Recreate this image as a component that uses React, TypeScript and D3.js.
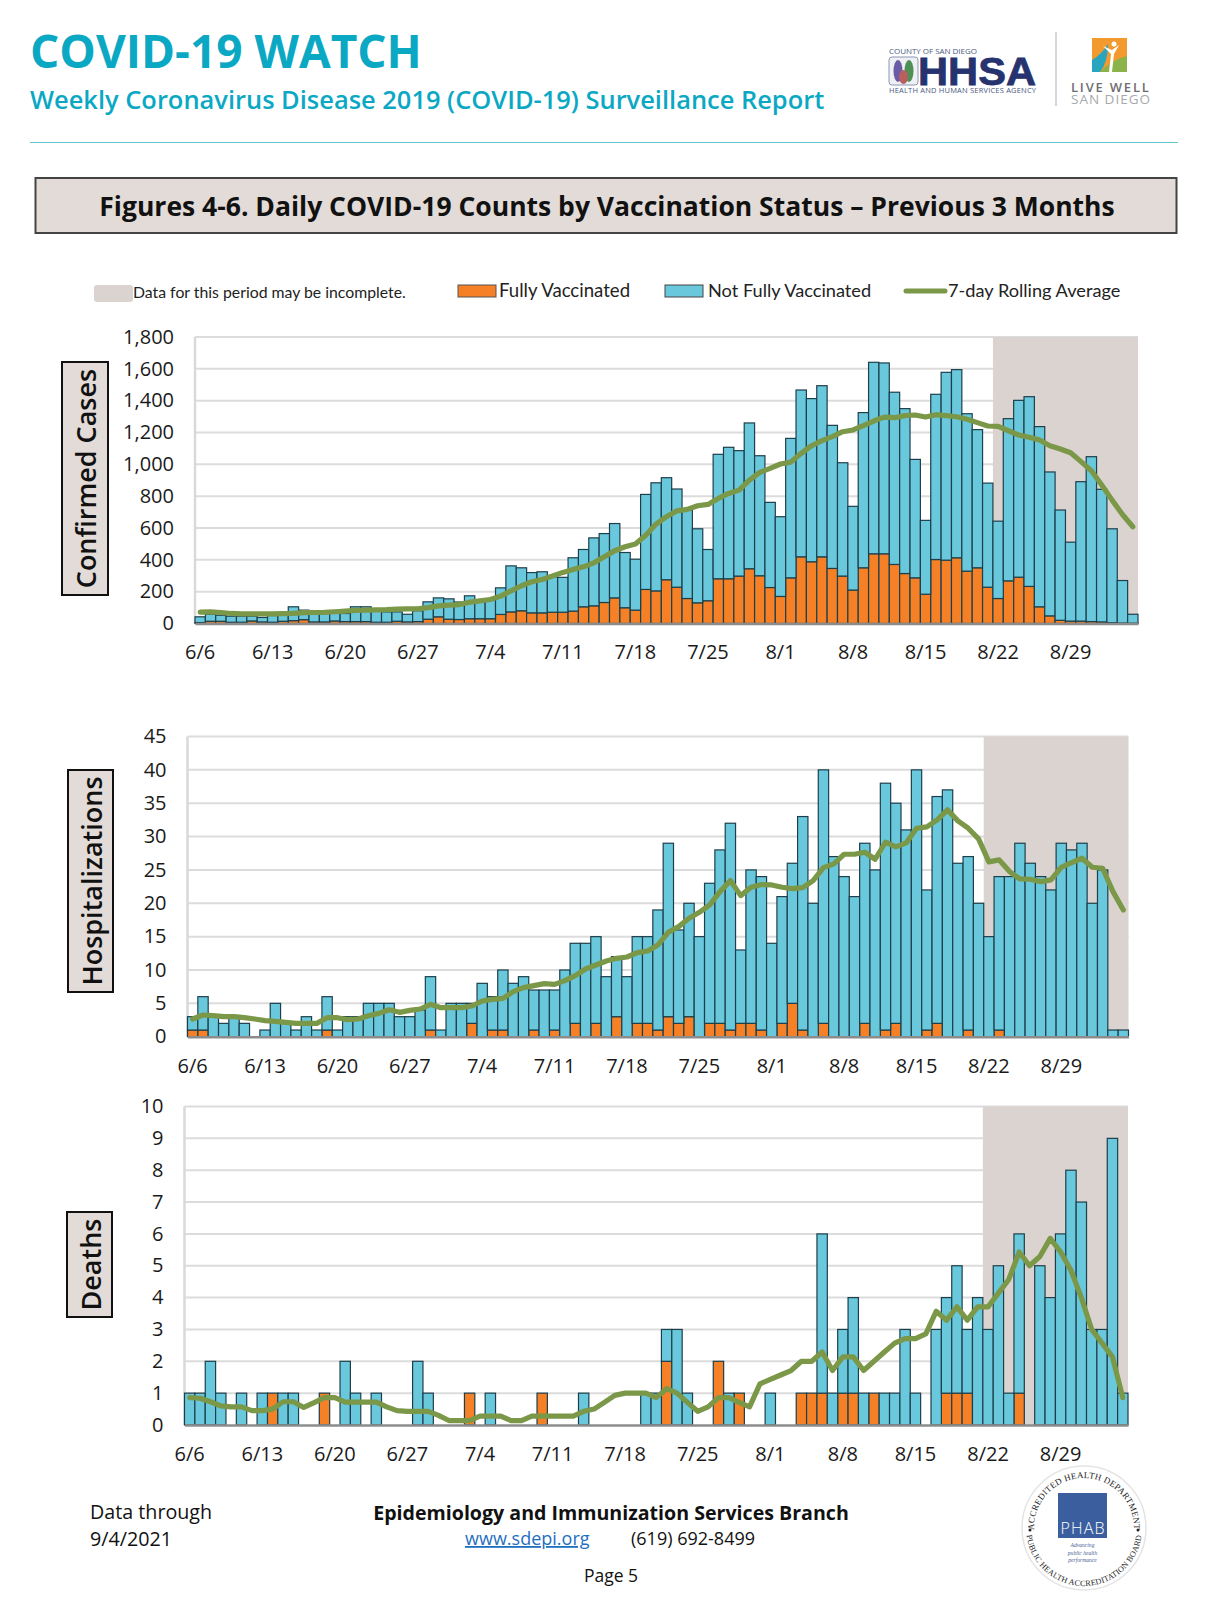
import React, { useEffect, useRef } from 'react'
import * as d3 from 'd3'

// 6/6/2021 through 9/4/2021
const days = d3.timeDay.range(new Date(2021, 5, 6), new Date(2021, 8, 5)).map(d3.timeFormat('%-m/%-d'))
const weekLabels = ['6/6', '6/13', '6/20', '6/27', '7/4', '7/11', '7/18', '7/25', '8/1', '8/8', '8/15', '8/22', '8/29']
const incompleteFrom = '8/22'

const casesTotal = [
    42, 58, 52, 46, 46, 46, 38, 50, 55, 105,
    84, 72, 65, 65, 63, 105, 105, 86, 73, 73,
    58, 80, 136, 161, 155, 135, 174, 147, 147, 224,
    362, 350, 320, 325, 293, 290, 413, 465, 538, 565,
    628, 446, 404, 811, 884, 916, 845, 712, 595, 465,
    1063, 1107, 1086, 1260, 1054, 761, 671, 1163, 1467, 1413,
    1494, 1245, 1010, 736, 1325, 1641, 1637, 1453, 1350, 1031,
    648, 1440, 1578, 1595, 1318, 1218, 882, 643, 1287, 1402,
    1425, 1237, 952, 713, 511, 891, 1048, 843, 595, 270,
    58,
]
const casesFully = [
    6, 14, 14, 8, 8, 16, 10, 8, 14, 18,
    24, 10, 10, 16, 12, 12, 12, 8, 8, 14,
    10, 12, 27, 42, 27, 25, 30, 30, 30, 57,
    73, 80, 67, 67, 71, 71, 78, 105, 111, 132,
    161, 99, 84, 214, 205, 275, 228, 157, 130, 143,
    281, 281, 298, 344, 300, 226, 170, 287, 419, 388,
    419, 346, 298, 210, 350, 438, 438, 371, 314, 287,
    184, 402, 398, 413, 329, 350, 228, 157, 268, 291,
    233, 105, 48, 20, 15, 15, 12, 10, 5, 3,
    2,
]
const casesAverage = [
    71, 73, 69, 63, 61, 61, 61, 61, 62, 64,
    68, 69, 70, 74, 78, 82, 84, 86, 87, 90,
    92, 92, 100, 111, 115, 119, 134, 142, 151, 172,
    205, 237, 262, 277, 298, 321, 340, 356, 381, 419,
    457, 482, 499, 555, 625, 671, 708, 717, 740, 748,
    786, 817, 838, 901, 949, 975, 1002, 1014, 1069, 1117,
    1149, 1174, 1205, 1216, 1243, 1272, 1297, 1293, 1306, 1310,
    1297, 1312, 1306, 1299, 1283, 1262, 1241, 1239, 1211, 1184,
    1170, 1153, 1117, 1096, 1073, 1017, 960, 870, 775, 685,
    608,
]

const hospTotal = [
    3, 6, 3, 2, 3, 2, 0, 1, 5, 2,
    1, 3, 1, 6, 1, 3, 3, 5, 5, 5,
    3, 3, 4, 9, 1, 5, 5, 5, 8, 6,
    10, 8, 9, 7, 7, 7, 10, 14, 14, 15,
    9, 12, 9, 15, 15, 19, 29, 16, 20, 15,
    23, 28, 32, 13, 25, 24, 14, 21, 26, 33,
    20, 40, 27, 24, 21, 29, 25, 38, 35, 31,
    40, 22, 36, 37, 26, 27, 20, 15, 24, 24,
    29, 26, 24, 22, 29, 28, 29, 20, 25, 1,
    1,
]
const hospFully = [
    1, 1, 0, 0, 0, 0, 0, 0, 0, 0,
    0, 0, 0, 1, 0, 0, 0, 0, 0, 0,
    0, 0, 0, 1, 0, 0, 0, 2, 0, 1,
    1, 0, 0, 1, 0, 1, 0, 2, 0, 2,
    0, 3, 0, 2, 2, 1, 3, 2, 3, 0,
    2, 2, 1, 2, 2, 1, 0, 2, 5, 1,
    0, 2, 0, 0, 0, 2, 0, 1, 2, 0,
    0, 1, 2, 0, 0, 1, 0, 0, 1, 0,
    0, 0, 0, 0, 0, 0, 0, 0, 0, 0,
    0,
]
const hospAverage = [
    2.65, 3.25, 3.15, 3, 3, 2.85, 2.65, 2.4, 2.3, 2.15,
    2, 2, 2, 2.85, 2.85, 2.55, 2.65, 3.15, 3.5, 4.05,
    3.65, 3.95, 4.15, 4.85, 4.35, 4.35, 4.35, 4.6, 5.35, 5.6,
    5.75, 6.75, 7.35, 7.65, 7.95, 7.85, 8.4, 9.15, 10.15, 10.75,
    11.35, 11.75, 11.95, 12.6, 12.85, 13.75, 15.65, 16.5, 17.75, 18.65,
    19.75, 21.75, 23.4, 21.15, 22.4, 22.8, 22.75, 22.4, 22.2, 22.35,
    23.4, 25.35, 25.9, 27.35, 27.35, 27.65, 26.6, 29.15, 28.45, 29.05,
    31.25, 31.45, 32.5, 34, 32.35, 31.25, 29.65, 26.2, 26.5, 24.75,
    23.65, 23.6, 23.25, 23.5, 25.4, 26.1, 26.75, 25.4, 25.25, 21.75,
    19,
]

const deathsTotal = [
    1, 1, 2, 1, 0, 1, 0, 1, 1, 1,
    1, 0, 0, 1, 0, 2, 1, 0, 1, 0,
    0, 0, 2, 1, 0, 0, 0, 1, 0, 1,
    0, 0, 0, 0, 1, 0, 0, 0, 1, 0,
    0, 0, 0, 0, 1, 1, 3, 3, 1, 0,
    0, 2, 1, 1, 0, 0, 1, 0, 0, 1,
    1, 6, 1, 3, 4, 1, 1, 1, 1, 3,
    1, 0, 3, 4, 5, 3, 4, 3, 5, 1,
    6, 0, 5, 4, 6, 8, 7, 3, 3, 9,
    1,
]
const deathsFully = [
    0, 0, 0, 0, 0, 0, 0, 0, 1, 0,
    0, 0, 0, 1, 0, 0, 0, 0, 0, 0,
    0, 0, 0, 0, 0, 0, 0, 1, 0, 0,
    0, 0, 0, 0, 1, 0, 0, 0, 0, 0,
    0, 0, 0, 0, 0, 0, 2, 0, 0, 0,
    0, 2, 0, 1, 0, 0, 0, 0, 0, 1,
    1, 1, 0, 1, 1, 0, 1, 0, 0, 0,
    0, 0, 0, 1, 1, 1, 0, 0, 0, 0,
    1, 0, 0, 0, 0, 0, 0, 0, 0, 0,
    0,
]
const deathsAverage = [
    0.86, 0.84, 0.73, 0.6, 0.57, 0.57, 0.45, 0.45, 0.5, 0.73,
    0.73, 0.55, 0.7, 0.86, 0.86, 0.72, 0.72, 0.72, 0.72, 0.57,
    0.45, 0.43, 0.43, 0.43, 0.3, 0.14, 0.14, 0.14, 0.28, 0.28,
    0.28, 0.14, 0.14, 0.28, 0.28, 0.28, 0.28, 0.28, 0.43, 0.5,
    0.71, 0.93, 1, 1, 1, 0.86, 1.14, 1, 0.71, 0.43,
    0.57, 0.86, 0.86, 0.71, 0.57, 1.29, 1.43, 1.57, 1.71, 2,
    2, 2.29, 1.71, 2.14, 2.14, 1.71, 2, 2.29, 2.57, 2.71,
    2.71, 2.86, 3.57, 3.29, 3.71, 3.29, 3.71, 3.71, 4.14, 4.57,
    5.43, 5, 5.29, 5.86, 5.43, 4.86, 4, 3, 2.57, 2.14,
    0.86,
]

const caseTicks = d3.range(0, 1801, 200)
const hospTicks = d3.range(0, 46, 5)
const deathTicks = d3.range(0, 11, 1)

const ORANGE = '#f58025'
const BLUE = '#6ac8dc'
const GREEN = '#7b9748'
const SHADE = '#dbd3cf'
const BEIGE = '#e2dbd7'
const TEAL = '#0ba8c4'
const SANS = '"Open Sans", sans-serif'
const CALIBRI = 'Lato, sans-serif'

type PanelProps = {
    total: number[]
    fully: number[]
    average: number[]
    ticks: number[]
    left: number
    right: number
    top: number
    bottom: number
    labelDrop: number
    tickFormat: (d: number) => string
}

const Panel = ({ total, fully, average, ticks, left, right, top, bottom, labelDrop, tickFormat }: PanelProps) => {
    const ref = useRef<SVGGElement>(null)

    useEffect(() => {
        const g = d3.select(ref.current)
        g.selectAll('*').remove()

        const x = d3.scaleBand<string>().domain(days).range([left, right])
        const y = d3.scaleLinear().domain([0, d3.max(ticks) as number]).range([bottom, top])

        // gridlines sit under the shaded "incomplete" block
        g.selectAll('line.grid')
            .data(ticks.filter((t) => t > 0))
            .join('line')
            .attr('class', 'grid')
            .attr('x1', left)
            .attr('x2', right)
            .attr('y1', (d) => y(d))
            .attr('y2', (d) => y(d))
            .attr('stroke', '#dcdcdc')
            .attr('stroke-width', 2)

        g.append('rect')
            .attr('x', x(incompleteFrom) as number)
            .attr('y', top)
            .attr('width', right - (x(incompleteFrom) as number))
            .attr('height', bottom - top)
            .attr('fill', SHADE)

        g.append('line')
            .attr('x1', left)
            .attr('x2', left)
            .attr('y1', top)
            .attr('y2', bottom)
            .attr('stroke', '#d9d9d9')
            .attr('stroke-width', 2.5)

        const rows = days.map((day, i) => ({ day, fully: fully[i], notFully: total[i] - fully[i] }))
        const stacked = d3.stack<any>().keys(['fully', 'notFully'])(rows)
        const colors = [ORANGE, BLUE]

        stacked.forEach((layer, k) => {
            g.append('g')
                .selectAll('rect')
                .data(layer.filter((d) => d[1] > d[0]))
                .join('rect')
                .attr('x', (d) => x(d.data.day) as number)
                .attr('y', (d) => y(d[1]))
                .attr('width', x.bandwidth())
                .attr('height', (d) => y(d[0]) - y(d[1]))
                .attr('fill', colors[k])
                .attr('stroke', '#1d3f4b')
                .attr('stroke-width', 1.2)
        })

        const xAxis = d3.axisBottom(x).tickValues(weekLabels).tickSize(0)
        const yAxis = d3.axisLeft(y).tickValues(ticks).tickSize(0).tickPadding(21).tickFormat(tickFormat as any)

        const bottomAxis = g.append('g').attr('transform', `translate(0,${bottom})`).call(xAxis)
        bottomAxis.select('.domain').attr('stroke', '#8c8c8c').attr('stroke-width', 2.5)
        bottomAxis.selectAll('text').attr('y', labelDrop).attr('dy', 0)

        const leftAxis = g.append('g').attr('transform', `translate(${left},0)`).call(yAxis)
        leftAxis.select('.domain').remove()
        leftAxis.selectAll('text').attr('dy', '0.31em')

        g.selectAll('.tick text')
            .attr('font-family', SANS)
            .attr('font-size', 20)
            .attr('fill', '#1a1a1a')

        const line = d3.line<number>()
            .x((_, i) => (x(days[i]) as number) + x.bandwidth() / 2)
            .y((d) => y(d))

        g.append('path')
            .attr('d', line(average))
            .attr('fill', 'none')
            .attr('stroke', GREEN)
            .attr('stroke-width', 5.2)
            .attr('stroke-linejoin', 'round')
            .attr('stroke-linecap', 'round')
    }, [])

    return <g ref={ref} />
}

const SideTitle = ({ x, y, w, h, label }: { x: number; y: number; w: number; h: number; label: string }) => (
    <g>
        <rect x={x} y={y} width={w} height={h} fill={BEIGE} stroke="#111" strokeWidth={2} />
        <text
            transform={`translate(${x + w / 2 + 11},${y + h / 2}) rotate(-90)`}
            textAnchor="middle"
            fontFamily={SANS}
            fontWeight={600}
            fontSize={27}
            fill="#111"
        >
            {label}
        </text>
    </g>
)

const Header = () => (
    <g>
        <text x={30} y={68} fontFamily={SANS} fontWeight={700} fontSize={46} fill={TEAL}>COVID-19 WATCH</text>
        <text x={30} y={109} fontFamily={SANS} fontWeight={600} fontSize={25.45} fill={TEAL}>
            Weekly Coronavirus Disease 2019 (COVID-19) Surveillance Report
        </text>
        <line x1={30} x2={1178} y1={142.5} y2={142.5} stroke="#62c3cd" strokeWidth={1.2} />

        {/* HHSA logo */}
        <text x={889} y={54} fontFamily={SANS} fontSize={8} fill="#4a5a80" textLength={88}>COUNTY OF SAN DIEGO</text>
        <rect x={889} y={57} width={29} height={28} rx={3} fill="#eef0f4" stroke="#8d97b5" />
        <ellipse cx={898} cy={71} rx={4.5} ry={11} fill="#6b5aa5" />
        <ellipse cx={909} cy={71} rx={4.5} ry={11} fill="#4e8f55" />
        <ellipse cx={903.5} cy={77} rx={4.5} ry={7} fill="#b8605f" />
        <text x={918} y={85} fontFamily="Liberation Sans, sans-serif" fontWeight={700} fontSize={39} fill="#26336f" stroke="#26336f" strokeWidth={0.8} textLength={118} lengthAdjust="spacingAndGlyphs">HHSA</text>
        <text x={889} y={93} fontFamily={SANS} fontSize={7.5} fill="#4a5a80" textLength={147}>HEALTH AND HUMAN SERVICES AGENCY</text>

        <line x1={1056} x2={1056} y1={32} y2={106} stroke="#c9c9c9" strokeWidth={1.5} />

        {/* Live Well logo */}
        <rect x={1092} y={38} width={35} height={34} fill="#f29a2e" />
        <path d="M1092 72 L1092 60 Q1102 54 1108 44 Q1108 62 1100 72 Z" fill="#2aa5c0" />
        <path d="M1100 72 Q1112 60 1127 56 L1127 72 Z" fill="#8cb24a" />
        <path d="M1109 72 L1111 54 L1103 46 L1112 50 L1119 45 L1114 54 L1112 72 Z" fill="#fff" />
        <circle cx={1114} cy={44} r={2.5} fill="#fff" />
        <text x={1071} y={92} fontFamily={SANS} fontWeight={600} fontSize={13} letterSpacing={1.8} fill="#6d6e71">LIVE WELL</text>
        <text x={1071} y={104} fontFamily={SANS} fontSize={13.5} letterSpacing={1} fill="#a7a9ac">SAN DIEGO</text>

        <rect x={35.5} y={178} width={1141} height={55} fill={BEIGE} stroke="#444" strokeWidth={2} />
        <text x={607} y={216} textAnchor="middle" fontFamily={SANS} fontWeight={700} fontSize={26.5} fill="#111">
            Figures 4-6. Daily COVID-19 Counts by Vaccination Status – Previous 3 Months
        </text>
    </g>
)

const Legend = () => (
    <g fontFamily={CALIBRI} fill="#222">
        <rect x={94} y={285} width={39} height={17} rx={3} fill={SHADE} />
        <text x={133} y={298} fontSize={15.8}>Data for this period may be incomplete.</text>
        <rect x={458} y={285} width={38} height={12} fill={ORANGE} stroke="#555" />
        <text x={499} y={297} fontSize={18.6}>Fully Vaccinated</text>
        <rect x={665} y={285} width={38} height={12} fill={BLUE} stroke="#444" />
        <text x={708} y={297} fontSize={18.2}>Not Fully Vaccinated</text>
        <line x1={906} x2={945} y1={291} y2={291} stroke={GREEN} strokeWidth={5} strokeLinecap="round" />
        <text x={948} y={297} fontSize={18.2}>7-day Rolling Average</text>
    </g>
)

const Footer = () => (
    <g fontFamily={SANS} fill="#111">
        <text x={90} y={1519} fontSize={19.7}>Data through</text>
        <text x={90} y={1546} fontSize={19.7}>9/4/2021</text>
        <text x={611} y={1520} textAnchor="middle" fontWeight={700} fontSize={19.6}>Epidemiology and Immunization Services Branch</text>
        <text x={465} y={1545} fontSize={18} fill="#1f6fc0" textDecoration="underline">www.sdepi.org</text>
        <text x={631} y={1545} fontSize={18}>(619) 692-8499</text>
        <text x={611} y={1582} textAnchor="middle" fontSize={17.5}>Page 5</text>
    </g>
)

const Seal = () => (
    <g>
        <defs>
            <path id="sealTop" d="M1034 1528 A50 50 0 1 1 1134 1528" />
            <path id="sealBottom" d="M1026 1528 A58 58 0 0 0 1142 1528" />
        </defs>
        <circle cx={1084} cy={1528} r={62} fill="#fff" stroke="#e4e4e4" strokeWidth={1.5} />
        <text fontFamily="Liberation Serif, serif" fontSize={8.8} fill="#222" letterSpacing={0.3}>
            <textPath href="#sealTop" startOffset="50%" textAnchor="middle">ACCREDITED HEALTH DEPARTMENT</textPath>
        </text>
        <text fontFamily="Liberation Serif, serif" fontSize={8.2} fill="#222" letterSpacing={0.2}>
            <textPath href="#sealBottom" startOffset="50%" textAnchor="middle">PUBLIC HEALTH ACCREDITATION BOARD</textPath>
        </text>
        <circle cx={1030} cy={1530} r={1.5} fill="#222" />
        <circle cx={1138} cy={1530} r={1.5} fill="#222" />
        <rect x={1058} y={1493} width={49} height={45} fill="#3b5f9e" />
        <text x={1082.5} y={1534} textAnchor="middle" fontFamily={SANS} fontWeight={300} fontSize={16} fill="#fff" textLength={44}>PHAB</text>
        <g fontFamily="Liberation Serif, serif" fontStyle="italic" fontSize={5.6} fill="#4a5f95" textAnchor="middle">
            <text x={1082.5} y={1547}>Advancing</text>
            <text x={1082.5} y={1554.5}>public health</text>
            <text x={1082.5} y={1562}>performance</text>
        </g>
    </g>
)

const App = () => {
    return (
        <svg width={1217} height={1600} style={{ position: 'absolute', top: 0, left: 0, background: '#fff' }}>
            <Header />
            <Legend />

            <Panel total={casesTotal} fully={casesFully} average={casesAverage} ticks={caseTicks}
                left={195} right={1138} top={337} bottom={623.5} labelDrop={35.5} tickFormat={d3.format(',')} />
            <Panel total={hospTotal} fully={hospFully} average={hospAverage} ticks={hospTicks}
                left={187.5} right={1128.5} top={736.5} bottom={1036.7} labelDrop={36} tickFormat={d3.format('d')} />
            <Panel total={deathsTotal} fully={deathsFully} average={deathsAverage} ticks={deathTicks}
                left={184.5} right={1128} top={1106.5} bottom={1425} labelDrop={36} tickFormat={d3.format('d')} />

            <SideTitle x={62} y={362} w={46} h={233} label="Confirmed Cases" />
            <SideTitle x={68} y={770} w={45} h={222} label="Hospitalizations" />
            <SideTitle x={67} y={1212} w={45} h={105} label="Deaths" />

            <Footer />
            <Seal />
        </svg>
    )
}

export default App
